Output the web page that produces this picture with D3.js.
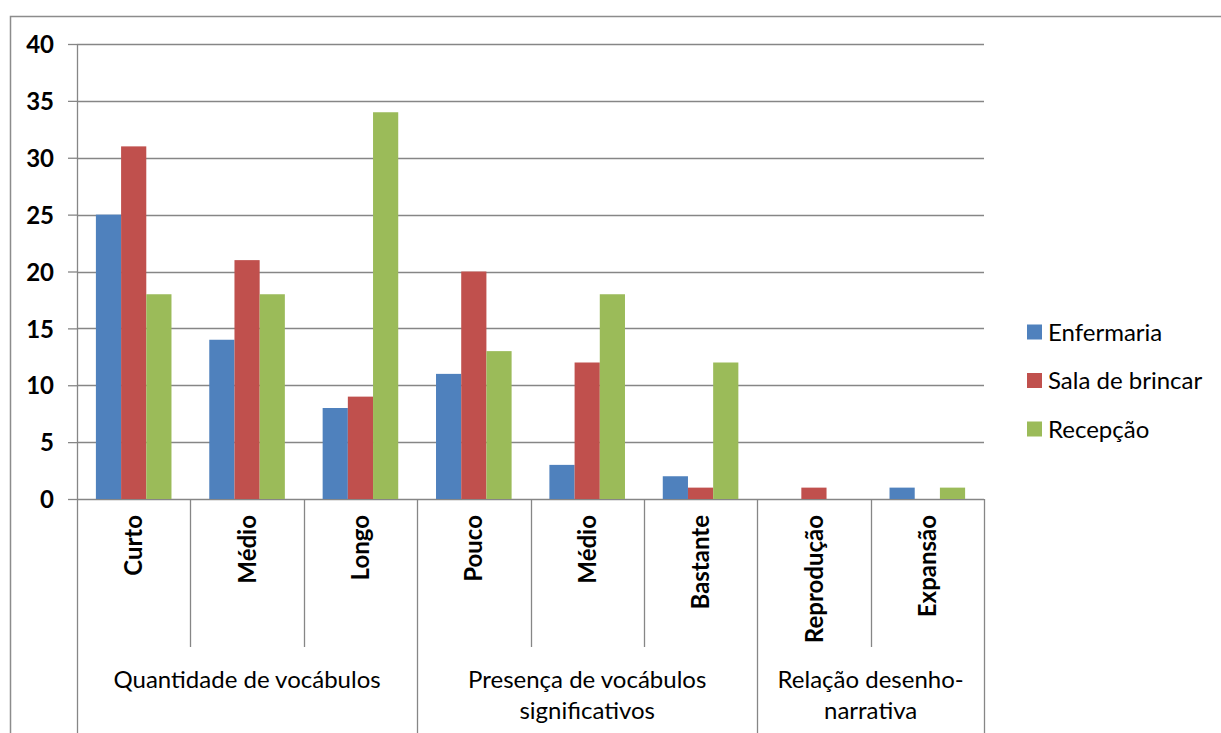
<!DOCTYPE html>
<html>
<head>
<meta charset="utf-8">
<script src="https://cdn.jsdelivr.net/npm/d3@7"></script>
<style>
  body { margin: 0; background: #fff; }
  svg { display: block; }
  text { font-family: Lato, "Open Sans", sans-serif; fill: #000; }
</style>
</head>
<body>
<svg id="chart"></svg>
<script>
// dados
var categories = ["Curto", "Médio", "Longo", "Pouco", "Médio", "Bastante", "Reprodução", "Expansão"];
var groups = [
    { lines: ["Quantidade de vocábulos"], size: 3 },
    { lines: ["Presença de vocábulos", "significativos"], size: 3 },
    { lines: ["Relação desenho-", "narrativa"], size: 2 }
];
var seriesNames = ["Enfermaria", "Sala de brincar", "Recepção"];
var enfermaria = [25, 14, 8, 11, 3, 2, 0, 1];
var salaBrincar = [31, 21, 9, 20, 12, 1, 1, 0];
var recepcao = [18, 18, 34, 13, 18, 12, 0, 1];
var seriesColors = ["#4F81BD", "#C0504D", "#9BBB59"];
var yTicks = [0, 5, 10, 15, 20, 25, 30, 35, 40];

var width = 1221, height = 733;
var plotLeft = 77, plotRight = 984, plotTop = 44, plotBottom = 499;
var gridColor = "#868686";

var svg = d3.select("#chart")
    .attr("width", width)
    .attr("height", height);

// moldura externa
svg.append("path")
    .attr("d", "M10.5," + height + "V16.5H" + width)
    .attr("fill", "none")
    .attr("stroke", "#8c8c8c")
    .attr("stroke-width", 1.5);

var values = [enfermaria, salaBrincar, recepcao];
var data = categories.map(function (c, i) {
    return { idx: i, name: c, vals: values.map(function (v, s) { return { s: s, v: v[i] }; }) };
});

// Escalas
var x = d3.scaleBand()
    .domain(d3.range(categories.length))
    .range([plotLeft, plotRight])
    .padding(0);
var catW = x.bandwidth();
var xs = d3.scaleBand()
    .domain(d3.range(seriesNames.length))
    .range([catW / 6, catW * 5 / 6]);
var y = d3.scaleLinear()
    .domain([0, 40])
    .range([plotBottom, plotTop]);

// Grade + eixo Y
var yAxis = d3.axisLeft(y)
    .tickValues(yTicks)
    .tickSize(9)
    .tickPadding(14);
var gy = svg.append("g")
    .attr("transform", "translate(" + plotLeft + ",0)")
    .call(yAxis);
gy.select(".domain").remove();
gy.selectAll(".tick line").attr("stroke", gridColor).attr("stroke-width", 1.3);
gy.selectAll(".tick text")
    .style("font-size", "24px")
    .style("font-weight", "bold")
    .attr("dy", "0.36em");

svg.append("g")
    .selectAll("line")
    .data(yTicks)
    .join("line")
    .attr("x1", plotLeft)
    .attr("x2", plotRight)
    .attr("y1", function (d) { return Math.round(y(d)) + 0.5; })
    .attr("y2", function (d) { return Math.round(y(d)) + 0.5; })
    .attr("stroke", gridColor)
    .attr("stroke-width", 1.3);

// barras
var cat = svg.append("g")
    .selectAll("g")
    .data(data)
    .join("g")
    .attr("transform", function (d) { return "translate(" + x(d.idx) + ",0)"; });
cat.selectAll("rect")
    .data(function (d) { return d.vals; })
    .join("rect")
    .attr("x", function (d) { return xs(d.s); })
    .attr("width", xs.bandwidth())
    .attr("y", function (d) { return y(d.v); })
    .attr("height", function (d) { return y(0) - y(d.v); })
    .attr("fill", function (d) { return seriesColors[d.s]; });

// eixo Y vertical
svg.append("line")
    .attr("x1", plotLeft + 0.5).attr("x2", plotLeft + 0.5)
    .attr("y1", plotTop).attr("y2", plotBottom)
    .attr("stroke", gridColor).attr("stroke-width", 1.3);

// divisões das categorias
var groupEdges = [0];
groups.forEach(function (g) { groupEdges.push(groupEdges[groupEdges.length - 1] + g.size); });
var edges = d3.range(categories.length + 1);
svg.append("g")
    .selectAll("line")
    .data(edges)
    .join("line")
    .attr("x1", function (i) { return Math.round(plotLeft + i * catW) + 0.5; })
    .attr("x2", function (i) { return Math.round(plotLeft + i * catW) + 0.5; })
    .attr("y1", plotBottom)
    .attr("y2", function (i) { return groupEdges.indexOf(i) >= 0 ? height : 647; })
    .attr("stroke", gridColor)
    .attr("stroke-width", 1.3);

// rótulos das categorias (verticais)
svg.append("g")
    .selectAll("text")
    .data(data)
    .join("text")
    .attr("transform", function (d) {
        return "translate(" + (x(d.idx) + catW / 2) + ",515) rotate(-90)";
    })
    .attr("text-anchor", "end")
    .attr("dy", "0.36em")
    .style("font-size", "24px")
    .style("font-weight", "bold")
    .text(function (d) { return d.name; });

// rótulos dos grupos
var gl = svg.append("g")
    .selectAll("text")
    .data(groups)
    .join("text")
    .attr("text-anchor", "middle")
    .style("font-size", "24px")
    .attr("transform", function (g, i) {
        var cx = plotLeft + (groupEdges[i] + g.size / 2) * catW;
        return "translate(" + cx + ",688)";
    });
gl.selectAll("tspan")
    .data(function (g) { return g.lines; })
    .join("tspan")
    .attr("x", 0)
    .attr("y", function (d, i) { return i * 31; })
    .text(function (d) { return d; });

// legenda
var legend = svg.append("g")
    .selectAll("g")
    .data(seriesNames)
    .join("g")
    .attr("transform", function (d, i) { return "translate(1027," + (332 + i * 48.5) + ")"; });
legend.append("rect")
    .attr("x", 0).attr("y", -7.5)
    .attr("width", 15).attr("height", 15)
    .attr("fill", function (d, i) { return seriesColors[i]; });
legend.append("text")
    .attr("x", 21)
    .attr("dy", "0.36em")
    .style("font-size", "24px")
    .text(function (d) { return d; });
</script>
</body>
</html>
